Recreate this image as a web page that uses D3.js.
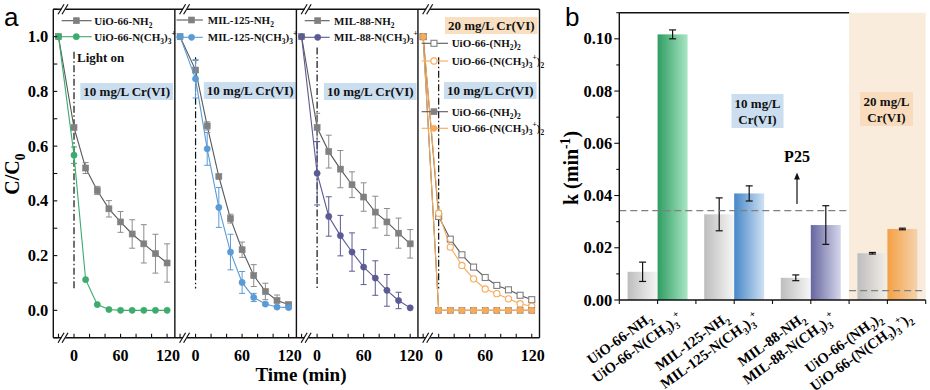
<!DOCTYPE html>
<html><head><meta charset="utf-8">
<script src="https://cdn.jsdelivr.net/npm/d3@7"></script>
<style>body{margin:0;background:#fff}</style>
</head><body><svg id="c" width="930" height="390" xmlns="http://www.w3.org/2000/svg"></svg>
<script>
// ---------------- DATA ----------------
const times = [-20, 0, 15, 30, 45, 60, 75, 90, 105, 120];
const xTickVals = [0, 60, 120];
const yTickValsA = [0.0, 0.2, 0.4, 0.6, 0.8, 1.0];

const uioNH2      = [1.0, 0.668, 0.52, 0.438, 0.371, 0.323, 0.279, 0.243, 0.207, 0.173];
const uioNH2Err   = [0, 0.005, 0.02, 0.015, 0.03, 0.038, 0.052, 0.07, 0.071, 0.07];
const uioNMe3     = [1.0, 0.567, 0.112, 0.021, 0.003, 0, 0, 0, 0, 0];
const uioNMe3Err  = [0, 0.03, 0, 0, 0, 0, 0, 0, 0, 0];

const mil125NH2     = [1.0, 0.878, 0.674, 0.489, 0.335, 0.2215, 0.127, 0.069, 0.036, 0.021];
const mil125NH2Err  = [0, 0.035, 0.015, 0.005, 0.016, 0.028, 0.04, 0.03, 0.02, 0.005];
const mil125NMe3    = [1.0, 0.846, 0.59, 0.376, 0.213, 0.102, 0.047, 0.023, 0.012, 0.01];
const mil125NMe3Err = [0, 0.07, 0.06, 0.073, 0.065, 0.04, 0.015, 0.005, 0.005, 0.005];

const mil88NH2     = [1.0, 0.668, 0.58, 0.516, 0.459, 0.414, 0.359, 0.323, 0.282, 0.243];
const mil88NH2Err  = [0, 0.052, 0.06, 0.068, 0.047, 0.052, 0.058, 0.049, 0.055, 0.052];
const mil88NMe3    = [1.0, 0.501, 0.343, 0.273, 0.213, 0.158, 0.118, 0.073, 0.036, 0.009];
const mil88NMe3Err = [0, 0.116, 0.072, 0.074, 0.07, 0.064, 0.063, 0.058, 0.03, 0];

const uio2NH2_20     = [1.0, 0.343, 0.26, 0.203, 0.158, 0.12, 0.091, 0.075, 0.055, 0.039];
const uio2NH2_20Err  = [0, 0.008, 0.006, 0.006, 0.006, 0.006, 0.006, 0.006, 0.006, 0.006];
const uio2NMe3_20    = [1.0, 0.355, 0.231, 0.164, 0.115, 0.078, 0.061, 0.042, 0.024, 0.015];
const uio2NMe3_20Err = [0, 0.01, 0.008, 0.006, 0.006, 0.006, 0.008, 0.006, 0.008, 0.006];
const uio2NH2_10     = [1.0, 0, 0, 0, 0, 0, 0, 0, 0, 0];
const uio2NMe3_10    = [1.0, 0, 0, 0, 0, 0, 0, 0, 0, 0];
const zeroErr        = [0, 0, 0, 0, 0, 0, 0, 0, 0, 0];

// panel b
const kLabels = ["UiO-66-NH_2", "UiO-66-N(CH_3)_3^+", "MIL-125-NH_2", "MIL-125-N(CH_3)_3^+",
                 "MIL-88-NH_2", "MIL-88-N(CH_3)_3^+", "UiO-66-(NH_2)_2", "UiO-66-(N(CH_3)_3^+)_2"];
const kValues = [0.0108, 0.1017, 0.0328, 0.0408, 0.0085, 0.0287, 0.0179, 0.0272];
const kErrors = [0.0037, 0.0017, 0.0063, 0.0029, 0.0011, 0.0074, 0.0003, 0.0003];
const p25Values = [0.0342, 0.0036];   // P25 reference at 10 and 20 mg/L
const yTickValsB = [0, 0.02, 0.04, 0.06, 0.08, 0.10];

// ---------------- STYLE ----------------
const SERIF = "'Liberation Serif','Times New Roman',serif";
const SANS = "'Liberation Sans',Arial,sans-serif";
const C = {gray:"#808080", grayLine:"#585858", grayErr:"#8c8c8c", green:"#3dab6e", blue:"#5b9bd5",
           purple:"#5b5b93", orange:"#f7aa5a", boxBlue:"#cadef0", boxPeach:"#f9dfc2"};

const svg = d3.select("#c");
const defs = svg.append("defs");

function rich(textSel, str, size) {
  const parts = []; let buf = "";
  for (let i = 0; i < str.length; i++) {
    const ch = str[i];
    if (ch === "_" || ch === "^") {
      if (buf) { parts.push({t: buf, m: 0}); buf = ""; }
      parts.push({t: str[i + 1], m: ch === "_" ? 1 : -1}); i++;
    } else buf += ch;
  }
  if (buf) parts.push({t: buf, m: 0});
  let cur = 0;
  parts.forEach(p => {
    const target = p.m === 1 ? 0.28 * size : (p.m === -1 ? -0.42 * size : 0);
    const ts = textSel.append("tspan").text(p.t);
    if (target - cur !== 0) ts.attr("dy", target - cur);
    if (p.m !== 0) ts.attr("font-size", size * 0.68);
    cur = target;
  });
  return textSel;
}

// ================= PANEL A =================
const yA = d3.scaleLinear().domain([-0.1, 1.1]).range([337.7, 9.3]);
const panelX = d3.scaleBand().domain(d3.range(4)).range([53.3, 539.5]);
const xA = p => d3.scaleLinear().domain([-26.7, 130]).range([panelX(p), panelX(p) + panelX.bandwidth()]);

const panels = [
  {series: [
    {name: "UiO-66-NH_2", v: uioNH2, e: uioNH2Err, c: C.gray, lc: C.grayLine, ec: C.grayErr, shape: "sq", open: false},
    {name: "UiO-66-N(CH_3)_3^+", v: uioNMe3, e: uioNMe3Err, c: C.green, lc: C.green, ec: C.green, shape: "ci", open: false}],
   legend: {x0: 8.4, x1: 38.4, xm: 23, xt: 41, ys: [20.7, 36.7]}},
  {series: [
    {name: "MIL-125-NH_2", v: mil125NH2, e: mil125NH2Err, c: C.gray, lc: C.grayLine, ec: C.grayErr, shape: "sq", open: false},
    {name: "MIL-125-N(CH_3)_3^+", v: mil125NMe3, e: mil125NMe3Err, c: C.blue, lc: C.blue, ec: C.blue, shape: "ci", open: false}],
   legend: {x0: 1.7, x1: 28, xm: 16.7, xt: 33, ys: [20, 37.3]}},
  {series: [
    {name: "MIL-88-NH_2", v: mil88NH2, e: mil88NH2Err, c: C.gray, lc: C.grayLine, ec: C.grayErr, shape: "sq", open: false},
    {name: "MIL-88-N(CH_3)_3^+", v: mil88NMe3, e: mil88NMe3Err, c: C.purple, lc: C.purple, ec: C.purple, shape: "ci", open: false}],
   legend: {x0: 8.3, x1: 33.3, xm: 21.3, xt: 37.6, ys: [20.7, 37.3]}},
  {series: [
    {name: "UiO-66-(NH_2)_2", v: uio2NH2_20, e: uio2NH2_20Err, c: C.gray, lc: C.grayLine, ec: C.grayErr, shape: "sq", open: true},
    {name: "UiO-66-(N(CH_3)_3^+)_2", v: uio2NMe3_20, e: uio2NMe3_20Err, c: C.orange, lc: C.orange, ec: C.orange, shape: "ci", open: true},
    {name: "UiO-66-(NH_2)_2", v: uio2NH2_10, e: zeroErr, c: C.gray, lc: C.grayLine, ec: C.grayErr, shape: "sq", open: false},
    {name: "UiO-66-(N(CH_3)_3^+)_2", v: uio2NMe3_10, e: zeroErr, c: C.orange, lc: C.orange, ec: C.orange, shape: "ci", open: false}],
   legend: {x0: 3.7, x1: 30, xm: 16, xt: 33.7, ys: [43.3, 61, 111.7, 128.3]}}
];

function marker(g, shape, x, y, color, open) {
  if (shape === "sq") {
    g.append("rect").attr("x", x - 3).attr("y", y - 3).attr("width", 6).attr("height", 6)
      .attr("fill", open ? "#fff" : color).attr("stroke", color).attr("stroke-width", open ? 1.1 : 0.6);
  } else {
    g.append("circle").attr("cx", x).attr("cy", y).attr("r", 3.1)
      .attr("fill", open ? "#fff" : color).attr("stroke", color).attr("stroke-width", open ? 1.1 : 0.6);
  }
}

function labelBox(x, y, str, fill) {
  const t = svg.append("text").attr("x", x).attr("y", y).attr("font-family", SERIF)
    .attr("font-weight", "bold").attr("font-size", 13).attr("fill", "#111").text(str);
  const bb = t.node().getBBox();
  svg.insert("rect", () => t.node()).attr("x", bb.x - 3).attr("y", bb.y - 1)
    .attr("width", bb.width + 6).attr("height", bb.height + 2).attr("fill", fill);
}

panels.forEach((P, pi) => {
  const x = xA(pi);
  const g = svg.append("g");
  const L = panelX(pi);
  g.append("line").attr("x1", x(0)).attr("x2", x(0)).attr("y1", yA(pi === 0 ? 0.945 : (pi === 2 ? 0.96 : 0.925)))
    .attr("y2", yA(0.08)).attr("stroke", "#111").attr("stroke-width", 1.2).attr("stroke-dasharray", "7,2.5,1.5,2.5");
  P.series.forEach(s => {
    const pts = times.map((t, i) => [x(t), yA(s.v[i]), s.e[i]]);
    g.append("path").attr("d", d3.line()(pts.map(p => [p[0], p[1]]))).attr("fill", "none")
      .attr("stroke", s.lc).attr("stroke-width", 1.1);
    pts.forEach((p, i) => {
      if (p[2] > 0) {
        const y1 = yA(s.v[i] + s.e[i]), y2 = yA(s.v[i] - s.e[i]);
        g.append("line").attr("x1", p[0]).attr("x2", p[0]).attr("y1", y1).attr("y2", y2).attr("stroke", s.ec).attr("stroke-width", 1);
        [y1, y2].forEach(yy => g.append("line").attr("x1", p[0] - 3).attr("x2", p[0] + 3).attr("y1", yy).attr("y2", yy).attr("stroke", s.ec).attr("stroke-width", 1));
      }
    });
    pts.forEach(p => marker(g, s.shape, p[0], p[1], s.c, s.open));
  });
  const lg = P.legend;
  P.series.forEach((s, si) => {
    const yy = lg.ys[si];
    g.append("line").attr("x1", L + lg.x0).attr("x2", L + lg.x1).attr("y1", yy).attr("y2", yy).attr("stroke", s.lc).attr("stroke-width", 1.1);
    marker(g, s.shape, L + lg.xm, yy, s.c, s.open);
    rich(g.append("text").attr("x", L + lg.xt).attr("y", yy + 3.8).attr("font-family", SERIF)
      .attr("font-weight", "bold").attr("font-size", 11).attr("fill", "#111"), s.name, 11);
  });
});

labelBox(panelX(0) + 30, 96, "10 mg/L Cr(VI)", C.boxBlue);
labelBox(panelX(1) + 32, 95, "10 mg/L Cr(VI)", C.boxBlue);
labelBox(panelX(2) + 30.5, 96, "10 mg/L Cr(VI)", C.boxBlue);
labelBox(panelX(3) + 29, 95, "10 mg/L Cr(VI)", C.boxBlue);
labelBox(panelX(3) + 30, 30, "20 mg/L Cr(VI)", C.boxPeach);
svg.append("text").attr("x", xA(0)(0) + 3).attr("y", 62).attr("font-family", SERIF).attr("font-weight", "bold")
  .attr("font-size", 13).attr("fill", "#111").text("Light on");

const fa = svg.append("g").attr("stroke", "#111").attr("stroke-width", 1.4).attr("fill", "none");
const aL = panelX(0), aR = panelX(3) + panelX.bandwidth();
fa.append("line").attr("x1", aL).attr("x2", aR).attr("y1", yA.range()[1]).attr("y2", yA.range()[1]);
fa.append("line").attr("x1", aL).attr("x2", aR).attr("y1", yA.range()[0]).attr("y2", yA.range()[0]);
[0, 1, 2, 3, 4].forEach(i => {
  const xx = i < 4 ? panelX(i) : aR;
  fa.append("line").attr("x1", xx).attr("x2", xx).attr("y1", yA.range()[1]).attr("y2", yA.range()[0]);
});
d3.range(-0.1, 1.15, 0.1).forEach(v => {
  fa.append("line").attr("x1", aL).attr("x2", aL + 4).attr("y1", yA(v)).attr("y2", yA(v)).attr("stroke-width", 1.1);
});
yTickValsA.forEach(v => {
  svg.append("text").attr("x", aL - 5).attr("y", yA(v) + 5.5).attr("text-anchor", "end")
    .attr("font-family", SERIF).attr("font-weight", "bold").attr("font-size", 16.5).text(d3.format(".1f")(v));
});
panels.forEach((P, pi) => {
  const x = xA(pi);
  d3.range(-20, 121, 20).forEach(t => {
    fa.append("line").attr("x1", x(t)).attr("x2", x(t)).attr("y1", yA.range()[0]).attr("y2", yA.range()[0] - 4).attr("stroke-width", 1.1);
  });
  xTickVals.forEach(t => {
    svg.append("text").attr("x", x(t) + (t === 120 ? 1 : 0)).attr("y", 361).attr("text-anchor", "middle")
      .attr("font-family", SERIF).attr("font-weight", "bold").attr("font-size", 16).text(t);
  });
  [yA.range()[1], yA.range()[0]].forEach(yy => {
    const bx = x(-13.5);
    svg.append("polygon").attr("points", `${bx - 4},${yy + 5} ${bx},${yy + 5} ${bx + 4},${yy - 5} ${bx},${yy - 5}`).attr("fill", "#fff");
    [-2, 2].forEach(d => svg.append("line").attr("x1", bx + d - 3.5).attr("x2", bx + d + 2.5).attr("y1", yy + 5).attr("y2", yy - 5)
      .attr("stroke", "#111").attr("stroke-width", 1.2));
  });
});
svg.append("text").attr("x", 301).attr("y", 381).attr("text-anchor", "middle").attr("font-family", SERIF)
  .attr("font-weight", "bold").attr("font-size", 19).text("Time (min)");
rich(svg.append("g").attr("transform", "translate(19,174) rotate(-90)").append("text").attr("text-anchor", "middle")
  .attr("font-family", SERIF).attr("font-weight", "bold").attr("font-size", 20), "C/C_0", 20);
svg.append("text").attr("x", 4).attr("y", 26).attr("font-family", SANS).attr("font-size", 26).text("a");

// ================= PANEL B =================
const yB = d3.scaleLinear().domain([0, 0.11]).range([300, 12.7]);
const gx = d3.scaleBand().domain(d3.range(4)).range([619.3, 925.7]);
const ix = d3.scaleBand().domain([0, 1]).range([0, gx.bandwidth()]).paddingOuter(0.277).paddingInner(0);
const barX = i => gx(Math.floor(i / 2)) + ix(i % 2);
const bLeft = gx.range()[0], bRight = gx.range()[1];

svg.append("rect").attr("x", gx(3)).attr("y", yB(0.11)).attr("width", bRight - gx(3)).attr("height", yB(0) - yB(0.11)).attr("fill", "#faecdd");

const barColors = [["#bdbdbd", "#f6f6f6"], ["#2e9d62", "#a9e6c4"], ["#bdbdbd", "#f6f6f6"], ["#4787c8", "#cfe1f3"],
                   ["#bdbdbd", "#f6f6f6"], ["#66669f", "#d6d6ec"], ["#bdbdbd", "#f3eee8"], ["#f4a044", "#f4d3ae"]];
barColors.forEach((c, i) => {
  const gr = defs.append("linearGradient").attr("id", "bg" + i).attr("x1", "0").attr("x2", "1").attr("y1", "0").attr("y2", "0");
  gr.append("stop").attr("offset", "0").attr("stop-color", c[0]);
  gr.append("stop").attr("offset", "1").attr("stop-color", c[1]);
});

const gb = svg.append("g");
kValues.forEach((v, i) => {
  gb.append("rect").attr("x", barX(i)).attr("y", yB(v)).attr("width", ix.bandwidth()).attr("height", yB(0) - yB(v))
    .attr("fill", `url(#bg${i})`);
});
kValues.forEach((v, i) => {
  const cx = barX(i) + ix.bandwidth() / 2;
  const y1 = yB(v + kErrors[i]), y2 = yB(v - kErrors[i]);
  gb.append("line").attr("x1", cx).attr("x2", cx).attr("y1", y1).attr("y2", y2).attr("stroke", "#111").attr("stroke-width", 1.2);
  [y1, y2].forEach(yy => gb.append("line").attr("x1", cx - 3.5).attr("x2", cx + 3.5).attr("y1", yy).attr("y2", yy).attr("stroke", "#111").attr("stroke-width", 1.2));
});
svg.append("line").attr("x1", bLeft).attr("x2", gx(3)).attr("y1", yB(p25Values[0])).attr("y2", yB(p25Values[0]))
  .attr("stroke", "#808080").attr("stroke-width", 1.3).attr("stroke-dasharray", "7,4");
svg.append("line").attr("x1", gx(3)).attr("x2", bRight).attr("y1", yB(p25Values[1])).attr("y2", yB(p25Values[1]))
  .attr("stroke", "#808080").attr("stroke-width", 1.3).attr("stroke-dasharray", "7,4");
const ax = gx(2) + 24.5;
defs.append("marker").attr("id", "arr").attr("viewBox", "0 0 10 10").attr("refX", 5).attr("refY", 5)
  .attr("markerWidth", 6).attr("markerHeight", 7).attr("orient", "auto")
  .append("path").attr("d", "M0,1 L10,5 L0,9 z").attr("fill", "#111");
svg.append("line").attr("x1", ax).attr("x2", ax).attr("y1", 204).attr("y2", 176).attr("stroke", "#111").attr("stroke-width", 1.2)
  .attr("marker-end", "url(#arr)");
svg.append("text").attr("x", ax).attr("y", 162).attr("text-anchor", "middle").attr("font-family", SERIF)
  .attr("font-weight", "bold").attr("font-size", 16).text("P25");

function box2(cx, y, lines, fill, w, h) {
  svg.append("rect").attr("x", cx - w / 2).attr("y", y).attr("width", w).attr("height", h).attr("fill", fill);
  lines.forEach((l, i) => svg.append("text").attr("x", cx).attr("y", y + 14 + i * 16).attr("text-anchor", "middle")
    .attr("font-family", SERIF).attr("font-weight", "bold").attr("font-size", 13).attr("fill", "#111").text(l));
}
box2(757.5, 94, ["10 mg/L", "Cr(VI)"], C.boxBlue, 52, 34);
box2(886.5, 92, ["20 mg/L", "Cr(VI)"], "#f9dcbd", 53, 34);

const fb = svg.append("g").attr("stroke", "#111").attr("stroke-width", 1.4);
fb.append("line").attr("x1", bLeft).attr("x2", bLeft).attr("y1", yB(0.11)).attr("y2", yB(0));
fb.append("line").attr("x1", bLeft).attr("x2", bRight).attr("y1", yB(0)).attr("y2", yB(0));
fb.append("line").attr("x1", bLeft).attr("x2", gx(3)).attr("y1", yB(0.11)).attr("y2", yB(0.11));
d3.range(0, 0.1101, 0.01).forEach((v, i) => {
  fb.append("line").attr("x1", bLeft).attr("x2", bLeft - (i % 2 === 0 ? 5 : 3)).attr("y1", yB(v)).attr("y2", yB(v)).attr("stroke-width", 1.1);
});
yTickValsB.forEach(v => {
  svg.append("text").attr("x", bLeft - 7).attr("y", yB(v) + 5.5).attr("text-anchor", "end").attr("font-family", SERIF)
    .attr("font-weight", "bold").attr("font-size", 16.5).text(d3.format(".2f")(v));
});
d3.range(4).forEach(g => {
  [gx(g), gx(g) + gx.bandwidth() / 2].forEach(xx => fb.append("line").attr("x1", xx).attr("x2", xx).attr("y1", yB(0)).attr("y2", yB(0) + 4).attr("stroke-width", 1.1));
});
fb.append("line").attr("x1", bRight).attr("x2", bRight).attr("y1", yB(0)).attr("y2", yB(0) + 4).attr("stroke-width", 1.1);
kLabels.forEach((lab, i) => {
  const cx = barX(i) + ix.bandwidth() / 2;
  const lg = svg.append("g").attr("transform", `translate(${(cx + 5).toFixed(2)},312) rotate(-36)`);
  rich(lg.append("text").attr("x", 0).attr("y", 10).attr("text-anchor", "end")
    .attr("font-family", SERIF).attr("font-weight", "bold").attr("font-size", 14.5), lab, 14.5);
});
rich(svg.append("g").attr("transform", "translate(578,168) rotate(-90)").append("text").attr("text-anchor", "middle")
  .attr("font-family", SERIF).attr("font-weight", "bold").attr("font-size", 20), "k (min^-^1)", 20);
svg.append("text").attr("x", 565).attr("y", 26).attr("font-family", SANS).attr("font-size", 26).text("b");
</script>
</body></html>
